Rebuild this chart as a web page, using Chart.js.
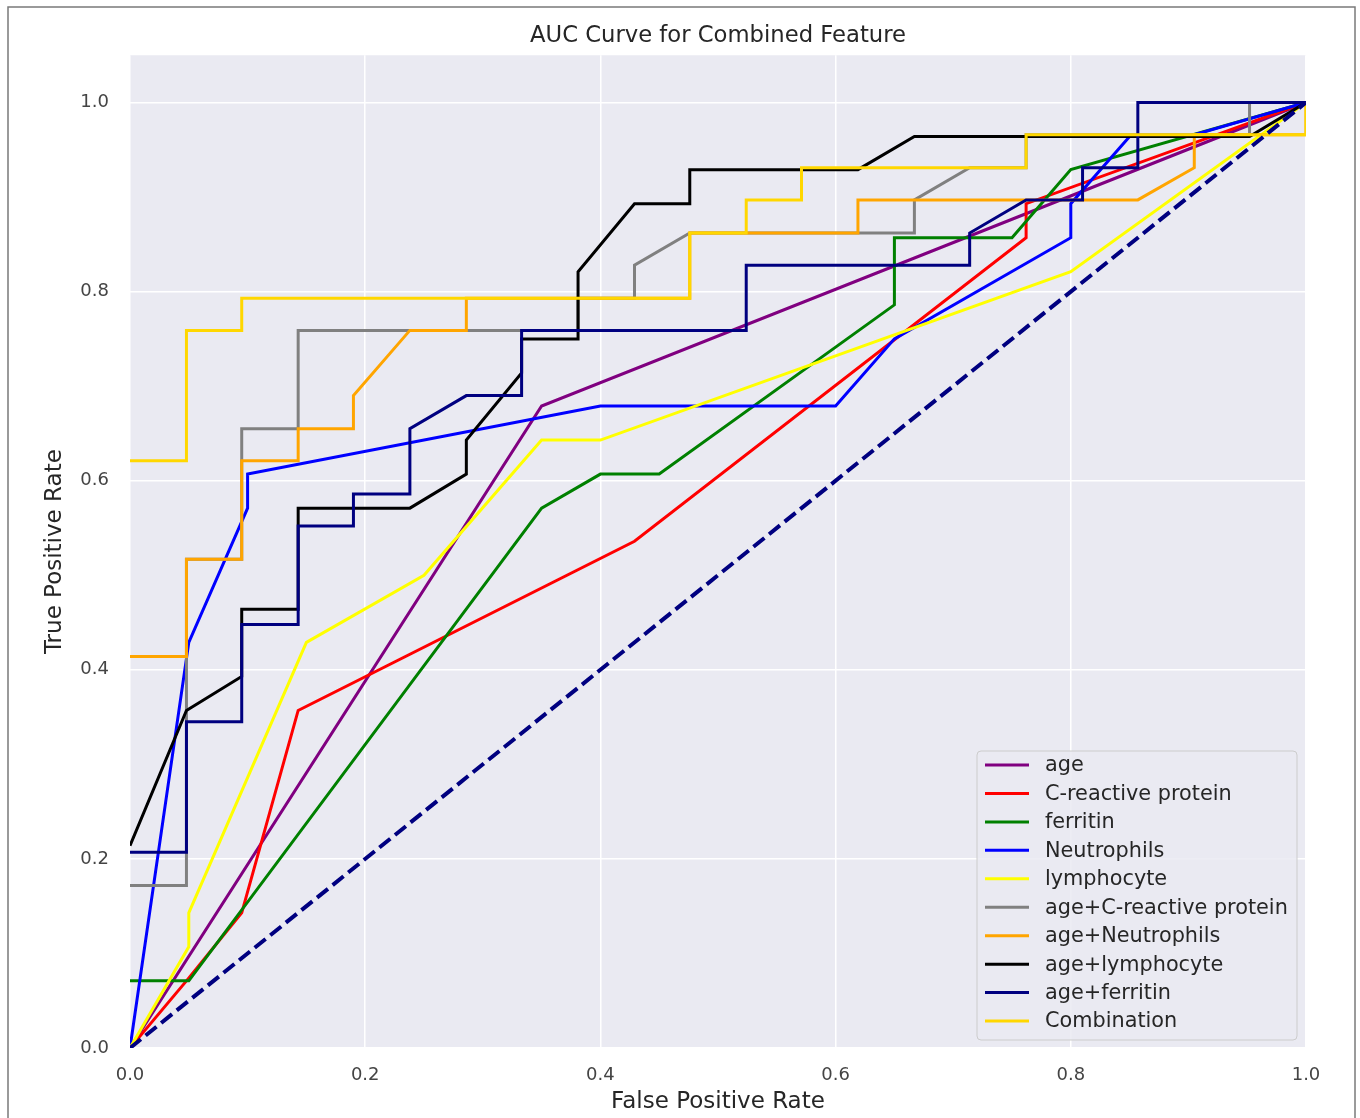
<!DOCTYPE html>
<html>
<head>
<meta charset="utf-8">
<script src="https://cdn.jsdelivr.net/npm/chart.js@4.4.1/dist/chart.umd.min.js"></script>
<style>
  body { margin: 0; background: #fff; }
</style>
</head>
<body>
<canvas id="roc" width="1360" height="1118"></canvas>
<script>
// ROC curve points (false positive rate / true positive rate)
const ageFpr = [0, 0.35, 1];
const ageTpr = [0, 0.679, 1];

const crpFpr = [0, 0.048, 0.095, 0.143, 0.429, 0.762, 0.762, 1];
const crpTpr = [0, 0.071, 0.143, 0.357, 0.536, 0.857, 0.893, 1];

const ferritinFpr = [0, 0.05, 0.35, 0.4, 0.45, 0.65, 0.65, 0.75, 0.8, 1];
const ferritinTpr = [0.071, 0.071, 0.571, 0.607, 0.607, 0.786, 0.857, 0.857, 0.929, 1];

const neutroFpr = [0, 0.05, 0.1, 0.1, 0.4, 0.6, 0.65, 0.8, 0.8, 0.85, 0.9, 1];
const neutroTpr = [0, 0.429, 0.571, 0.607, 0.679, 0.679, 0.75, 0.857, 0.893, 0.964, 0.964, 1];

const lymphFpr = [0, 0.05, 0.05, 0.15, 0.25, 0.35, 0.4, 0.8, 1];
const lymphTpr = [0, 0.107, 0.143, 0.429, 0.5, 0.643, 0.643, 0.821, 1];

const ageCrpFpr = [0, 0.048, 0.048, 0.095, 0.095, 0.143, 0.143, 0.381, 0.381, 0.429, 0.429, 0.476, 0.667, 0.667, 0.714, 0.762, 0.762, 0.952, 0.952, 1];
const ageCrpTpr = [0.172, 0.172, 0.517, 0.517, 0.655, 0.655, 0.759, 0.759, 0.793, 0.793, 0.828, 0.862, 0.862, 0.897, 0.931, 0.931, 0.966, 0.966, 1, 1];

const ageNeutroFpr = [0, 0.048, 0.048, 0.095, 0.095, 0.143, 0.143, 0.19, 0.19, 0.238, 0.286, 0.286, 0.476, 0.476, 0.619, 0.619, 0.857, 0.905, 0.905, 1, 1];
const ageNeutroTpr = [0.414, 0.414, 0.517, 0.517, 0.621, 0.621, 0.655, 0.655, 0.69, 0.759, 0.759, 0.793, 0.793, 0.862, 0.862, 0.897, 0.897, 0.931, 0.966, 0.966, 1];

const ageLymphFpr = [0, 0.048, 0.095, 0.095, 0.143, 0.143, 0.238, 0.286, 0.286, 0.333, 0.333, 0.381, 0.381, 0.429, 0.476, 0.476, 0.619, 0.667, 0.952, 1];
const ageLymphTpr = [0.214, 0.357, 0.393, 0.464, 0.464, 0.571, 0.571, 0.607, 0.643, 0.714, 0.75, 0.75, 0.821, 0.893, 0.893, 0.929, 0.929, 0.964, 0.964, 1];

const ageFerrFpr = [0, 0.048, 0.048, 0.095, 0.095, 0.143, 0.143, 0.19, 0.19, 0.238, 0.238, 0.286, 0.333, 0.333, 0.524, 0.524, 0.714, 0.714, 0.762, 0.81, 0.81, 0.857, 0.857, 1];
const ageFerrTpr = [0.207, 0.207, 0.345, 0.345, 0.448, 0.448, 0.552, 0.552, 0.586, 0.586, 0.655, 0.69, 0.69, 0.759, 0.759, 0.828, 0.828, 0.862, 0.897, 0.897, 0.931, 0.931, 1, 1];

const comboFpr = [0, 0.048, 0.048, 0.095, 0.095, 0.476, 0.476, 0.524, 0.524, 0.571, 0.571, 0.762, 0.762, 1, 1];
const comboTpr = [0.621, 0.621, 0.759, 0.759, 0.793, 0.793, 0.862, 0.862, 0.897, 0.897, 0.931, 0.931, 0.966, 0.966, 1];

const chanceFpr = [0, 1];
const chanceTpr = [0, 1];

const labels = ['age', 'C-reactive protein', 'ferritin', 'Neutrophils', 'lymphocyte',
    'age+C-reactive protein', 'age+Neutrophils', 'age+lymphocyte', 'age+ferritin', 'Combination'];
const colors = ['#800080', '#ff0000', '#008000', '#0000ff', '#ffff00',
    '#808080', '#ffa500', '#000000', '#000080', '#ffd700'];
const curves = [
    [ageFpr, ageTpr], [crpFpr, crpTpr], [ferritinFpr, ferritinTpr], [neutroFpr, neutroTpr],
    [lymphFpr, lymphTpr], [ageCrpFpr, ageCrpTpr], [ageNeutroFpr, ageNeutroTpr],
    [ageLymphFpr, ageLymphTpr], [ageFerrFpr, ageFerrTpr], [comboFpr, comboTpr]
];
const yTicks = [0, 0.2, 0.4, 0.6, 0.8, 1.0];

function toPoints(xs, ys) {
    return xs.map((x, i) => ({ x: x, y: ys[i] }));
}

// later curves sit on top, as in the original plot
const datasets = curves.map((c, i) => ({
    label: labels[i],
    data: toPoints(c[0], c[1]),
    borderColor: colors[i],
    borderWidth: 3,
    order: 20 - i
}));
datasets.push({
    label: 'chance',
    data: toPoints(chanceFpr, chanceTpr),
    borderColor: '#000080',
    borderWidth: 4,
    borderDash: [14, 6],
    order: 0
});

const frame = {
    id: 'frame',
    beforeDraw(chart) {
        const c = chart.ctx, a = chart.chartArea;
        c.save();
        c.fillStyle = '#ffffff';
        c.fillRect(0, 0, chart.width, chart.height);
        c.strokeStyle = '#7a7a7a';
        c.lineWidth = 1.5;
        c.strokeRect(8, 7, 1347, 1130);
        c.fillStyle = '#eaeaf2';
        c.fillRect(a.left, a.top, a.right - a.left, a.bottom - a.top);
        c.restore();
    },
    afterDraw(chart) {
        // legend box in the lower right corner of the plot
        const c = chart.ctx;
        const x0 = 977, y0 = 751, w = 320, h = 289;
        c.save();
        c.beginPath();
        c.roundRect(x0, y0, w, h, 4);
        c.fillStyle = 'rgba(234,234,242,0.85)';
        c.fill();
        c.strokeStyle = '#cccccc';
        c.lineWidth = 1;
        c.stroke();
        c.font = '20.8px "DejaVu Sans"';
        c.textBaseline = 'middle';
        for (let i = 0; i < labels.length; i++) {
            const y = 765 + i * 28.45;
            c.strokeStyle = colors[i];
            c.lineWidth = 3;
            c.beginPath();
            c.moveTo(985, y);
            c.lineTo(1029, y);
            c.stroke();
            c.fillStyle = '#262626';
            c.fillText(labels[i], 1045, y + 1);
        }
        c.restore();
    }
};

const ctx = document.getElementById('roc').getContext('2d');
const roc = new Chart(ctx, {
    type: 'line',
    data: { datasets: datasets },
    options: {
        responsive: false,
        animation: false,
        devicePixelRatio: 1,
        layout: { padding: { left: 0, right: 54, top: 0, bottom: 0 } },
        elements: {
            point: { radius: 0 },
            line: { tension: 0, fill: false }
        },
        plugins: {
            legend: { display: false },
            tooltip: { enabled: false },
            title: {
                display: true,
                fullSize: false,
                text: 'AUC Curve for Combined Feature',
                color: '#262626',
                font: { family: 'DejaVu Sans', size: 22.7, weight: 'normal' },
                padding: { top: 22, bottom: 6 }
            }
        },
        scales: {
            x: {
                type: 'linear',
                min: 0,
                max: 1,
                afterFit: s => { s.height = 70; },
                ticks: {
                    stepSize: 0.2,
                    padding: 17,
                    color: '#444',
                    font: { family: 'DejaVu Sans', size: 18 },
                    callback: v => v.toFixed(1)
                },
                grid: { color: '#ffffff', lineWidth: 1.5, drawTicks: false },
                border: { display: false },
                title: {
                    display: true,
                    text: 'False Positive Rate',
                    color: '#262626',
                    font: { family: 'DejaVu Sans', size: 23 },
                    padding: { top: 0, bottom: 2 }
                }
            },
            y: {
                type: 'linear',
                min: 0,
                max: 1.05,
                afterFit: s => { s.width = 130; },
                afterBuildTicks: s => { s.ticks = yTicks.map(v => ({ value: v })); },
                ticks: {
                    padding: 21,
                    color: '#444',
                    font: { family: 'DejaVu Sans', size: 18 },
                    callback: v => v.toFixed(1)
                },
                grid: { color: '#ffffff', lineWidth: 1.5, drawTicks: false },
                border: { display: false },
                title: {
                    display: true,
                    text: 'True Positive Rate',
                    color: '#262626',
                    font: { family: 'DejaVu Sans', size: 23 },
                    padding: { top: 41, bottom: 0 }
                }
            }
        }
    },
    plugins: [frame]
});
</script>
</body>
</html>
